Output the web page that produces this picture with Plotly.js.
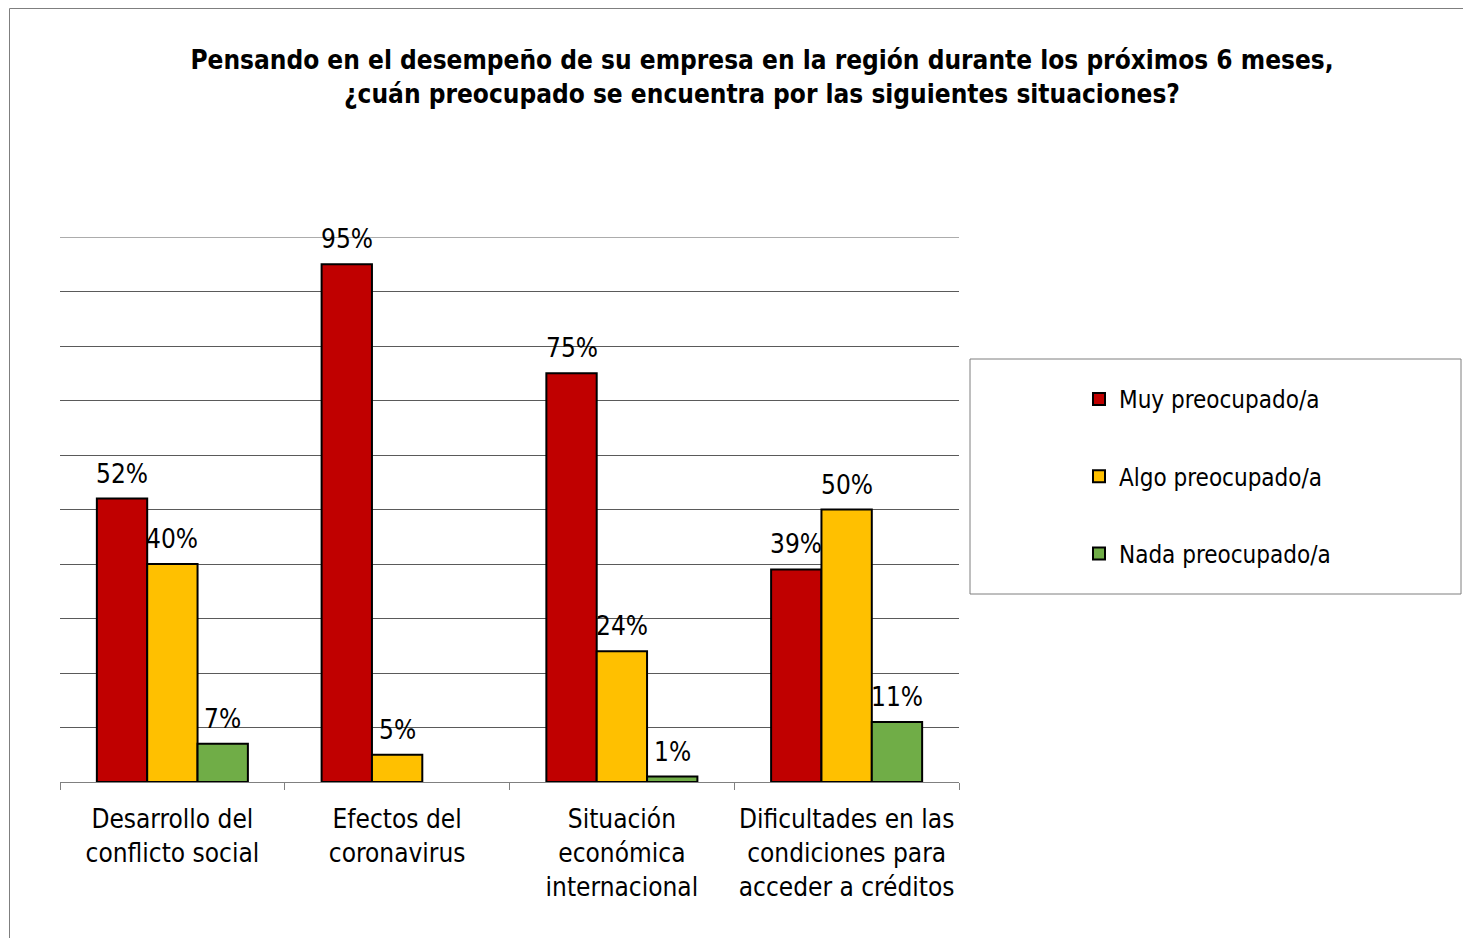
<!DOCTYPE html>
<html>
<head>
<meta charset="utf-8">
<script src="https://cdn.plot.ly/plotly-3.0.1.min.js"></script>
<style>
html,body{margin:0;padding:0;background:#fff;}
#chart{width:1463px;height:938px;}
</style>
</head>
<body>
<div id="chart"></div>
<script>
const categories = [
  "Desarrollo del<br>conflicto social",
  "Efectos del<br>coronavirus",
  "Situación<br>económica<br>internacional",
  "Dificultades en las<br>condiciones para<br>acceder a créditos"
];
const seriesNames = ["Muy preocupado/a", "Algo preocupado/a", "Nada preocupado/a"];
const muy = [52, 95, 75, 39];
const algo = [40, 5, 24, 50];
const nada = [7, null, 1, 11];
const colors = ["#C00000", "#FFC000", "#70AD47"];
const titleText = "Pensando en el desempeño de su empresa en la región durante los próximos 6 meses,<br>¿cuán preocupado se encuentra por las siguientes situaciones?";

const FONT = "'DejaVu Sans Condensed', 'DejaVu Sans', sans-serif";
const series = [muy, algo, nada];
const BARGAP = 0.328;
const barW = (1 - BARGAP) / series.length;

const traces = series.map((vals, i) => ({
  type: "bar",
  name: seriesNames[i],
  x: categories.map((c, k) => k),
  y: vals,
  marker: {color: colors[i], line: {color: "#000", width: 2}},
  legendgroup: "g" + i,
  hoverinfo: "none"
}));

const annotations = [];
series.forEach((vals, i) => {
  vals.forEach((v, k) => {
    if (v == null) return;
    annotations.push({
      x: k + (i - 1) * barW, y: v, xref: "x", yref: "y",
      text: v + "%", showarrow: false,
      xanchor: "center", yanchor: "bottom", yshift: 8,
      font: {family: FONT, size: 26, color: "#000"}
    });
  });
});

const L = 60, R = 959, T = 237, B = 782;
const W = R - L, H = B - T;
const px = x => (x - L) / W;
const py = y => (B - y) / H;

const layout = {
  width: 1463, height: 938,
  margin: {l: L, r: 1463 - R, t: T, b: 938 - B, pad: 0},
  paper_bgcolor: "#fff",
  plot_bgcolor: "#fff",
  font: {family: FONT, size: 26, color: "#000"},
  title: {
    text: titleText,
    font: {family: FONT, size: 26, color: "#000", weight: "bold"},
    x: px(762), xref: "paper", xanchor: "center",
    y: 1 - 69 / 938, yref: "container", yanchor: "top"
  },
  barmode: "group",
  bargap: BARGAP,
  bargroupgap: 0,
  showlegend: true,
  legend: {
    x: px(1079), xanchor: "left",
    y: py(377), yanchor: "top",
    bgcolor: "rgba(0,0,0,0)",
    borderwidth: 0,
    tracegroupgap: 43,
    font: {family: FONT, size: 24, color: "#000"},
    traceorder: "grouped"
  },
  xaxis: {
    type: "linear",
    range: [-0.5, categories.length - 0.5],
    tickmode: "array",
    tickvals: categories.map((c, k) => k),
    ticktext: categories,
    showgrid: false,
    showline: true, linecolor: "#808080", linewidth: 1,
    ticks: "",
    ticklabelstandoff: 14,
    tickfont: {family: FONT, size: 26, color: "#000"},
    zeroline: false,
    fixedrange: true,
    minor: {tickmode: "array", tickvals: [-0.5, 0.5, 1.5, 2.5, 3.5], ticks: "outside", ticklen: 7, tickcolor: "#808080", showgrid: false}
  },
  yaxis: {
    range: [0, 100], dtick: 10, tick0: 0,
    showticklabels: false,
    showgrid: true, gridcolor: "#5a5a5a", gridwidth: 1,
    zeroline: false, showline: false, ticks: "",
    fixedrange: true
  },
  annotations: annotations,
  shapes: [
    {type: "line", xref: "paper", yref: "y", x0: 0, x1: 1, y0: 100, y1: 100,
     line: {color: "#5a5a5a", width: 1}, layer: "below"},
    {type: "rect", xref: "paper", yref: "paper",
     x0: px(970), x1: px(1461), y0: py(594), y1: py(359),
     line: {color: "#7f7f7f", width: 1}, fillcolor: "rgba(0,0,0,0)"},
    {type: "line", xref: "paper", yref: "paper",
     x0: px(9.5), x1: px(9.5), y0: py(945), y1: py(8.5),
     line: {color: "#7f7f7f", width: 1}},
    {type: "line", xref: "paper", yref: "paper",
     x0: px(9.5), x1: px(1470), y0: py(8.5), y1: py(8.5),
     line: {color: "#7f7f7f", width: 1}}
  ]
};

Plotly.newPlot("chart", traces, layout, {displayModeBar: false, staticPlot: true});
</script>
</body>
</html>
